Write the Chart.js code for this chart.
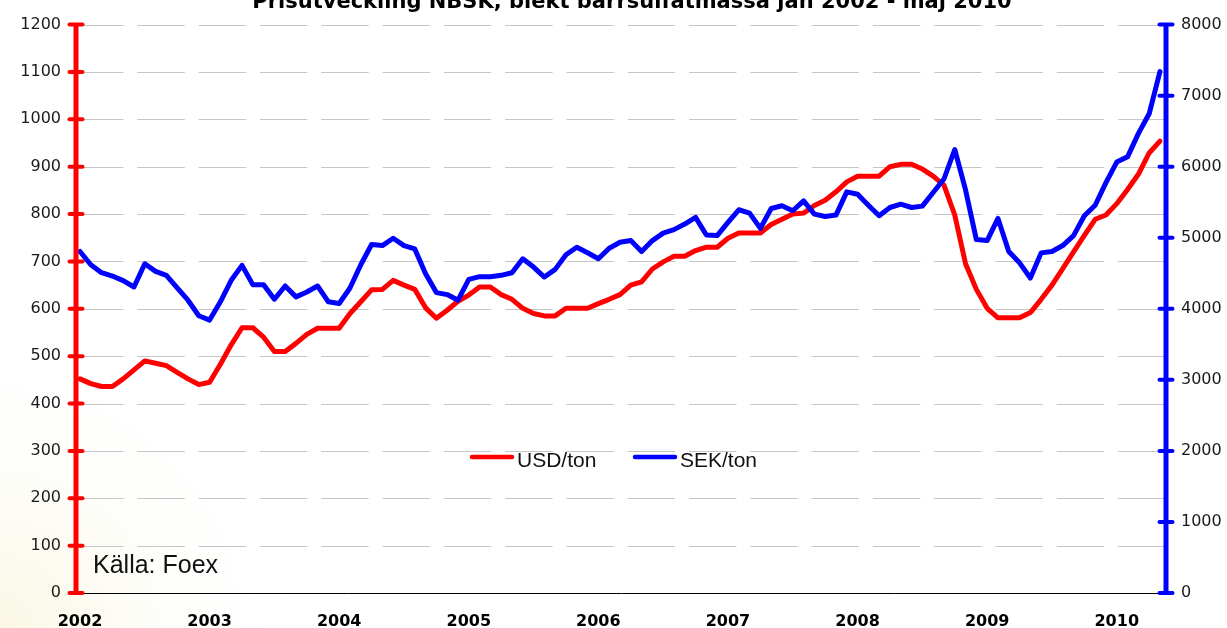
<!DOCTYPE html>
<html>
<head>
<meta charset="utf-8">
<title>Prisutveckling NBSK</title>
<script src="https://cdn.jsdelivr.net/npm/chart.js@4.4.1/dist/chart.umd.min.js"></script>
<style>
    html, body { margin: 0; padding: 0; background: #ffffff; }
    #wrap { position: relative; width: 1227px; height: 628px; overflow: hidden; }
</style>
</head>
<body>
<div id="wrap"><canvas id="chart" width="1227" height="628"></canvas></div>
<script>
(function () {
    "use strict";

    // -----------------------------------------------------------
    //  Data (monthly, jan 2002 - maj 2010)
    // -----------------------------------------------------------
    var chartTitle = "Prisutveckling NBSK, blekt barrsulfatmassa jan 2002 - maj 2010";
    var sourceNote = "Källa: Foex";
    var yearLabels = ["2002", "2003", "2004", "2005", "2006", "2007", "2008", "2009", "2010"];
    var usdTicks = [0, 100, 200, 300, 400, 500, 600, 700, 800, 900, 1000, 1100, 1200];
    var sekTicks = [0, 1000, 2000, 3000, 4000, 5000, 6000, 7000, 8000];

    var usdLabel = "USD/ton";
    var usdPerTon = [
        452, 442, 436, 436, 452, 471, 490, 485, 480, 466, 452, 440,
        445, 483, 524, 560, 560, 540, 510, 510, 527, 546, 559, 559,
        559, 590, 615, 640, 641, 660, 650, 641, 602, 580, 597, 616,
        629, 646, 646, 630, 620, 601, 590, 585, 585, 601, 601, 601,
        611, 620, 630, 650, 657, 684, 699, 711, 711, 723, 730, 730,
        749, 760, 760, 760, 778, 789, 800, 802, 818, 829, 847, 868,
        880, 880, 880, 900, 905, 905, 895, 880, 861, 798, 695, 641,
        601, 581, 581, 581, 592, 620, 650, 685, 720, 755, 789, 798,
        822, 852, 884, 929, 954
    ];

    var sekLabel = "SEK/ton";
    var sekPerTon = [
        4807, 4620, 4508, 4461, 4396, 4307, 4634, 4527, 4471, 4293, 4121, 3902,
        3841, 4098, 4401, 4611, 4340, 4340, 4135, 4321, 4168, 4237, 4321, 4098,
        4074, 4293, 4620, 4905, 4890, 4993, 4890, 4843, 4494, 4228, 4200, 4121,
        4415, 4452, 4452, 4471, 4508, 4704, 4587, 4447, 4555, 4760, 4867, 4788,
        4704, 4853, 4937, 4960, 4807, 4960, 5065, 5114, 5193, 5286, 5039, 5030,
        5216, 5394, 5347, 5132, 5412, 5450, 5380, 5520, 5332, 5300, 5319, 5646,
        5612, 5458, 5310, 5426, 5472, 5426, 5445, 5636, 5827, 6242, 5673, 4974,
        4960, 5272, 4807, 4647, 4433, 4787, 4807, 4890, 5030, 5310, 5458, 5776,
        6065, 6139, 6465, 6745, 7338
    ];

    var RED = "#ff0000";
    var BLUE = "#0000ff";

    function toPoints(values) {
        return values.map(function (v, i) { return { x: i, y: v }; });
    }

    // -----------------------------------------------------------
    //  Plugins: background, dashed grid, coloured axes, notes
    // -----------------------------------------------------------
    var backgroundPlugin = {
        id: "bg",
        beforeDraw: function (chart) {
            var ctx = chart.ctx;
            ctx.save();
            ctx.fillStyle = "#ffffff";
            ctx.fillRect(0, 0, chart.width, chart.height);
            var g = ctx.createRadialGradient(0, chart.height, 0, 0, chart.height, 300);
            g.addColorStop(0, "rgba(250, 247, 228, 1)");
            g.addColorStop(1, "rgba(255, 255, 255, 0)");
            ctx.fillStyle = g;
            ctx.fillRect(0, 0, chart.width, chart.height);
            ctx.restore();
        }
    };

    var gridPlugin = {
        id: "dashGrid",
        beforeDatasetsDraw: function (chart) {
            var ctx = chart.ctx;
            var area = chart.chartArea;
            var s = chart.scales.y;
            ctx.save();
            ctx.strokeStyle = "#c6c6c6";
            ctx.lineWidth = 1;
            ctx.setLineDash([47.5, 13.8]);
            s.ticks.forEach(function (t) {
                if (t.value === 0) return;
                var y = Math.round(s.getPixelForValue(t.value)) + 0.5;
                ctx.beginPath();
                ctx.moveTo(area.left, y);
                ctx.lineTo(area.right, y);
                ctx.stroke();
            });
            ctx.restore();
        }
    };

    function drawAxis(ctx, scale, x, color, area) {
        ctx.save();
        ctx.strokeStyle = color;
        ctx.lineWidth = 5;
        ctx.lineCap = "butt";
        ctx.beginPath();
        ctx.moveTo(x, area.top);
        ctx.lineTo(x, area.bottom);
        ctx.stroke();
        ctx.lineWidth = 4;
        ctx.lineCap = "round";
        scale.ticks.forEach(function (t) {
            var y = scale.getPixelForValue(t.value);
            ctx.beginPath();
            ctx.moveTo(x - 6.5, y);
            ctx.lineTo(x + 6.5, y);
            ctx.stroke();
        });
        ctx.restore();
    }

    var axesPlugin = {
        id: "axes",
        afterDatasetsDraw: function (chart) {
            var area = chart.chartArea;
            drawAxis(chart.ctx, chart.scales.y, area.left, RED, area);
            drawAxis(chart.ctx, chart.scales.y1, area.right, BLUE, area);
        }
    };

    var notesPlugin = {
        id: "notes",
        afterDraw: function (chart) {
            var ctx = chart.ctx;
            ctx.save();

            // title (cut off at the top edge, as in the original)
            ctx.fillStyle = "#000000";
            ctx.font = "bold 21px 'DejaVu Sans'";
            ctx.textAlign = "center";
            ctx.textBaseline = "alphabetic";
            ctx.fillText(chartTitle, 632, 8);

            // source
            ctx.fillStyle = "#111111";
            ctx.font = "25px 'Liberation Sans'";
            ctx.textAlign = "left";
            ctx.fillText(sourceNote, 93, 573);

            // legend
            var items = [
                { label: usdLabel, color: RED, x: 471 },
                { label: sekLabel, color: BLUE, x: 634 }
            ];
            ctx.font = "21px 'Liberation Sans'";
            items.forEach(function (it) {
                ctx.strokeStyle = it.color;
                ctx.lineWidth = 4.5;
                ctx.lineCap = "round";
                ctx.beginPath();
                ctx.moveTo(it.x + 1, 457);
                ctx.lineTo(it.x + 41, 457);
                ctx.stroke();
                ctx.fillStyle = "#111111";
                ctx.fillText(it.label, it.x + 46, 467);
            });
            ctx.restore();
        }
    };

    // -----------------------------------------------------------
    //  Chart
    // -----------------------------------------------------------
    var tickFont = { family: "'DejaVu Sans'", size: 16 };
    function plainNumber(v) { return String(v); }

    new Chart(document.getElementById("chart"), {
        type: "line",
        data: {
            datasets: [
                {
                    label: usdLabel,
                    data: toPoints(usdPerTon),
                    yAxisID: "y",
                    borderColor: RED,
                    borderWidth: 5,
                    pointRadius: 0,
                    tension: 0,
                    borderJoinStyle: "round",
                    borderCapStyle: "round",
                    order: 1
                },
                {
                    label: sekLabel,
                    data: toPoints(sekPerTon),
                    yAxisID: "y1",
                    borderColor: BLUE,
                    borderWidth: 5,
                    pointRadius: 0,
                    tension: 0,
                    borderJoinStyle: "round",
                    borderCapStyle: "round",
                    order: 0
                }
            ]
        },
        options: {
            responsive: false,
            animation: false,
            devicePixelRatio: 1,
            layout: { padding: { top: 21, left: 0, right: 0, bottom: 0 } },
            plugins: {
                legend: { display: false },
                title: { display: false },
                tooltip: { enabled: false }
            },
            scales: {
                x: {
                    type: "linear",
                    min: -0.37,
                    max: 100.56,
                    afterBuildTicks: function (s) {
                        s.ticks = yearLabels.map(function (_, k) { return { value: k * 12 }; });
                    },
                    afterFit: function (s) { s.height = 35; },
                    grid: { display: false },
                    border: { display: true, color: "#000000", width: 1 },
                    ticks: {
                        autoSkip: false,
                        maxRotation: 0,
                        padding: 11,
                        color: "#000000",
                        font: { family: "'DejaVu Sans'", size: 16, weight: "bold" },
                        callback: function (v) { return yearLabels[Math.round(v / 12)]; }
                    }
                },
                y: {
                    position: "left",
                    min: 0,
                    max: 1200,
                    afterBuildTicks: function (s) {
                        s.ticks = usdTicks.map(function (v) { return { value: v }; });
                    },
                    afterFit: function (s) { s.width = 76; },
                    grid: { display: false, drawTicks: false },
                    border: { display: false },
                    ticks: { autoSkip: false, padding: 15, color: "#1a1a1a", font: tickFont, callback: plainNumber }
                },
                y1: {
                    position: "right",
                    min: 0,
                    max: 8000,
                    afterBuildTicks: function (s) {
                        s.ticks = sekTicks.map(function (v) { return { value: v }; });
                    },
                    afterFit: function (s) { s.width = 61; },
                    grid: { display: false, drawTicks: false },
                    border: { display: false },
                    ticks: { autoSkip: false, padding: 15, color: "#1a1a1a", font: tickFont, callback: plainNumber }
                }
            }
        },
        plugins: [backgroundPlugin, gridPlugin, axesPlugin, notesPlugin]
    });
})();
</script>
</body>
</html>
